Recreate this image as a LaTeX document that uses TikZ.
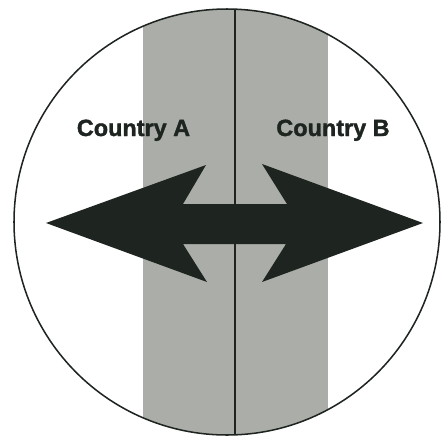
\documentclass[tikz,border=0pt]{standalone}
\usepackage{fontspec}
\newfontfamily\labelfont[BoldFeatures={FakeBold=1.6}]{Liberation Sans}
\definecolor{bandgray}{HTML}{ABAEA8}
\definecolor{inkdark}{HTML}{1E2420}
\tikzset{
  every picture/.style={line cap=round, line join=round},
  borderline/.style={draw=inkdark, line width=1.3pt},
  divider/.style={draw=inkdark, line width=1.2pt},
  bandfill/.style={fill=bandgray},
  arrowfill/.style={fill=inkdark},
  countrylabel/.style={font=\labelfont\bfseries\fontsize{20}{22}\selectfont, text=inkdark, anchor=base, inner sep=0pt},
}
\begin{document}
\begin{tikzpicture}[x=0.03cm, y=-0.03cm]
  \useasboundingbox (0,0) rectangle (442,439);
  \coordinate (ctr) at (227,222);
  % border zone, clipped to the disc
  \begin{scope}
    \clip (ctr) circle[radius=213];
    \fill[bandfill] (143,0) rectangle (328,439);
    \draw[divider] (235,0) -- (235,439);
  \end{scope}
  \draw[borderline] (ctr) circle[radius=213];
  % labels
  \node[countrylabel] (labelA) at (133.5,136) {Country A};
  \node[countrylabel] (labelB) at (333,136) {Country B};
  % two-way arrow across the border
  \fill[arrowfill] (46,223) -- (206,165) -- (183,204) -- (287,204) -- (262,164)
    -- (423,223) -- (262,282) -- (286,244) -- (183,244) -- (207,282) -- cycle;
\end{tikzpicture}
\end{document}
